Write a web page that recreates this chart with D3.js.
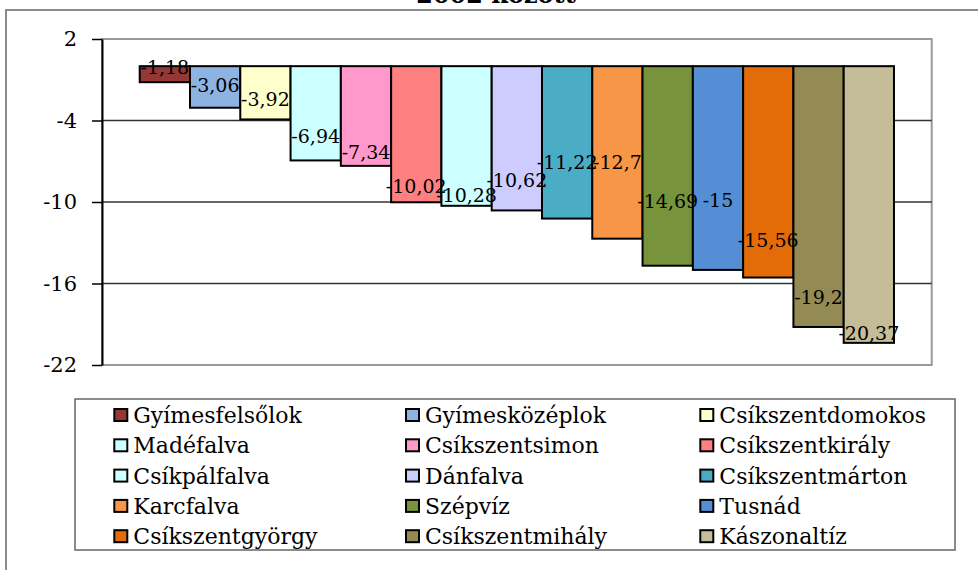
<!DOCTYPE html>
<meta charset="utf-8">
<style>
body { margin: 0; background-color: #FFFFFF; }
svg text { font-family: "DejaVu Serif", serif; fill: #000; }
</style>
<svg width="978" height="570"></svg>
<script src="https://d3js.org/d3.v7.min.js"></script>
<script>

// data
var titleText = "2002 között";
var categories = ["Gyímesfelsőlok", "Gyímesközéplok", "Csíkszentdomokos", "Madéfalva", "Csíkszentsimon",
                  "Csíkszentkirály", "Csíkpálfalva", "Dánfalva", "Csíkszentmárton", "Karcfalva",
                  "Szépvíz", "Tusnád", "Csíkszentgyörgy", "Csíkszentmihály", "Kászonaltíz"];
var values = [-1.18, -3.06, -3.92, -6.94, -7.34, -10.02, -10.28, -10.62, -11.22, -12.7,
              -14.69, -15, -15.56, -19.2, -20.37];
// where each data label sits (value on the y axis), labels were moved by hand in the original
var labelAt = [-0.06, -1.4, -2.41, -5.18, -6.36, -8.85, -9.5, -8.4, -7.05, -7.08,
               -9.98, -9.88, -12.81, -17.0, -19.68];
var colors = ["#953735", "#8DB3E2", "#FFFFCC", "#CCFFFF", "#FF99CC",
              "#FF8080", "#CCFFFF", "#CCCCFF", "#4BACC6", "#F79646",
              "#77933C", "#558ED5", "#E36C09", "#948A54", "#C4BD97"];
var yTicks = [2, -4, -10, -16, -22];

var serif = "DejaVu Serif";

var svg = d3.select("svg"),
    plot = {left: 102, top: 39, right: 931.7, bottom: 365};

var y = d3.scaleLinear()
    .domain([d3.min(yTicks), d3.max(yTicks)])
    .range([plot.bottom, plot.top]);

var x = d3.scaleBand()
    .domain(categories)
    .range([plot.left, plot.right])
    .paddingInner(0)
    .paddingOuter(0.75);

var color = d3.scaleOrdinal().domain(categories).range(colors);

// outer chart frame
svg.append("rect")
    .attr("x", 6).attr("y", 10)
    .attr("width", 1000).attr("height", 600)
    .attr("fill", "none")
    .attr("stroke", "#8c8c8c")
    .attr("stroke-width", 2);

// title (only its last line shows at the top edge)
svg.append("text")
    .attr("x", 496).attr("y", 3)
    .attr("text-anchor", "middle")
    .style("font-family", serif)
    .attr("font-size", 24)
    .attr("font-weight", "bold")
    .text(titleText);

// plot area frame
svg.append("rect")
    .attr("x", plot.left).attr("y", plot.top)
    .attr("width", plot.right - plot.left)
    .attr("height", plot.bottom - plot.top)
    .attr("fill", "none")
    .attr("stroke", "#999")
    .attr("stroke-width", 2);

// gridlines
svg.append("g")
  .selectAll("line")
  .data(yTicks.slice(1, -1))
  .enter().append("line")
    .attr("x1", plot.left).attr("x2", plot.right)
    .attr("y1", function(d) { return y(d); })
    .attr("y2", function(d) { return y(d); })
    .attr("stroke", "#333")
    .attr("stroke-width", 1.5);

// bars
svg.append("g")
  .selectAll("rect")
  .data(categories)
  .enter().append("rect")
    .attr("x", function(d) { return x(d); })
    .attr("y", y(0))
    .attr("width", x.bandwidth())
    .attr("height", function(d, i) { return y(values[i]) - y(0); })
    .attr("fill", function(d) { return color(d); })
    .attr("stroke", "#000")
    .attr("stroke-width", 2);

// y axis
var yAxis = svg.append("g")
    .attr("transform", "translate(" + plot.left + ",0)")
    .call(d3.axisLeft(y).tickValues(yTicks).tickSize(10).tickSizeOuter(0).tickPadding(15));

yAxis.select(".domain").attr("stroke", "#000").attr("stroke-width", 2);
yAxis.selectAll(".tick line").attr("stroke", "#000").attr("stroke-width", 1.5);
yAxis.selectAll(".tick text")
    .style("font-family", serif)
    .attr("font-size", 21)
    .attr("fill", "#000")
    .text(function(d) { return d; });

// data labels
svg.append("g")
  .selectAll("text")
  .data(categories)
  .enter().append("text")
    .attr("x", function(d) { return x(d) + x.bandwidth() / 2; })
    .attr("y", function(d, i) { return y(labelAt[i]); })
    .attr("dy", "0.35em")
    .attr("text-anchor", "middle")
    .style("font-family", serif)
    .attr("font-size", 19)
    .text(function(d, i) { return String(values[i]).replace(".", ","); });

// legend
var legendCols = [113.3, 405, 699.3],
    legendTop = 415,
    legendRow = 30.3;

svg.append("rect")
    .attr("x", 75).attr("y", 399)
    .attr("width", 880).attr("height", 151)
    .attr("fill", "none")
    .attr("stroke", "#666")
    .attr("stroke-width", 1.5);

var legend = svg.append("g")
  .selectAll("g")
  .data(categories)
  .enter().append("g")
    .attr("transform", function(d, i) {
      return "translate(" + legendCols[i % 3] + "," + (legendTop + Math.floor(i / 3) * legendRow) + ")";
    });

legend.append("rect")
    .attr("x", 1).attr("y", -6)
    .attr("width", 13).attr("height", 12)
    .attr("fill", function(d) { return color(d); })
    .attr("stroke", "#000")
    .attr("stroke-width", 2);

legend.append("text")
    .attr("x", 20).attr("y", 8)
    .style("font-family", serif)
    .attr("font-size", 22)
    .text(function(d) { return d; });

</script>
